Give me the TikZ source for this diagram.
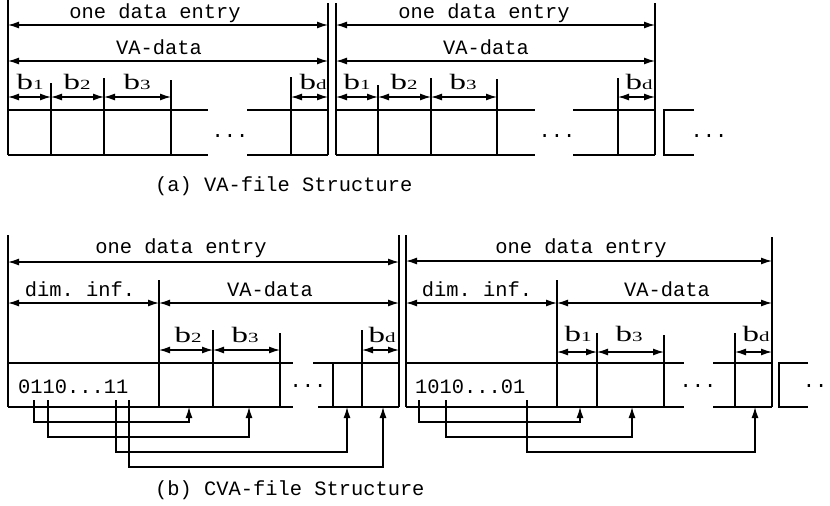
\documentclass[tikz,border=0pt]{standalone}
\usepackage{graphicx}
\usepackage{fontspec}
\setmainfont{Liberation Serif}
\setmonofont{Liberation Mono}
\usetikzlibrary{arrows.meta}

\newcommand{\bsub}[1]{\scalebox{1.5}[1]{b{\fontsize{14}{14}\selectfont #1}}}

\begin{document}
\begin{tikzpicture}[x=1pt,y=-1pt,
    struct/.style={line width=1.5pt},
    dimarrow/.style={line width=1.3pt,{Latex[length=11pt,width=7pt]}-{Latex[length=11pt,width=7pt]}},
    link/.style={line width=1.3pt,-{Latex[length=11pt,width=7pt]}},
    lbl/.style={font=\ttfamily\fontsize{20.4}{20.4}\selectfont,inner sep=0pt,anchor=base},
    blbl/.style={font=\rmfamily\fontsize{22}{22}\selectfont,inner sep=0pt,anchor=base}]
    \useasboundingbox (0,0) rectangle (830,506);

    % ---------- (a) VA-file ----------
    % first entry
    \draw[struct] (8,0) -- (8,155);
    \draw[struct] (328,3) -- (328,155);
    \coordinate (oa1l) at (8,25);   \coordinate (oa1r) at (328,25);
    \coordinate (va1l) at (8,61);   \coordinate (va1r) at (328,61);
    \draw[dimarrow] (oa1l) -- (oa1r);
    \draw[dimarrow] (va1l) -- (va1r);
    \node[lbl] (entA1) at (155,19) {one data entry};
    \node[lbl] (vaA1) at (159,54) {VA-data};
    \foreach \x/\y in {51/83,104/78,171/80,291/77}
        \draw[struct] (\x,\y) -- (\x,155);
    \foreach \n/\x in {0/8,1/51,2/104,3/171,4/291,5/328}
        \coordinate (ta\n) at (\x,97);
    \draw[dimarrow] (ta0) -- (ta1);
    \draw[dimarrow] (ta1) -- (ta2);
    \draw[dimarrow] (ta2) -- (ta3);
    \draw[dimarrow] (ta4) -- (ta5);
    \node[blbl] (bA1) at (30,89) {\bsub{1}};
    \node[blbl] (bA2) at (77,89) {\bsub{2}};
    \node[blbl] (bA3) at (137,89) {\bsub{3}};
    \node[blbl] (bAd) at (313,89) {\bsub{d}};
    \draw[struct] (8,110) -- (208,110) (247,110) -- (328,110)
                  (8,155) -- (208,155) (247,155) -- (328,155);
    \node[lbl] (dotA1) at (230,137) {...};

    % second entry
    \draw[struct] (336,3) -- (336,155);
    \draw[struct] (655,3) -- (655,155);
    \coordinate (oa2l) at (336,25);  \coordinate (oa2r) at (655,25);
    \coordinate (va2l) at (336,61);  \coordinate (va2r) at (655,61);
    \draw[dimarrow] (oa2l) -- (oa2r);
    \draw[dimarrow] (va2l) -- (va2r);
    \node[lbl] (entA2) at (484,19) {one data entry};
    \node[lbl] (vaA2) at (486,54) {VA-data};
    \foreach \x/\y in {378/85,431/78,497/79,618/78}
        \draw[struct] (\x,\y) -- (\x,155);
    \foreach \n/\x in {0/336,1/378,2/431,3/497,4/618,5/655}
        \coordinate (tb\n) at (\x,97);
    \draw[dimarrow] (tb0) -- (tb1);
    \draw[dimarrow] (tb1) -- (tb2);
    \draw[dimarrow] (tb2) -- (tb3);
    \draw[dimarrow] (tb4) -- (tb5);
    \node[blbl] (bB1) at (357,89) {\bsub{1}};
    \node[blbl] (bB2) at (404,89) {\bsub{2}};
    \node[blbl] (bB3) at (463,89) {\bsub{3}};
    \node[blbl] (bBd) at (639,89) {\bsub{d}};
    \draw[struct] (336,110) -- (535,110) (573,110) -- (655,110)
                  (336,155) -- (535,155) (573,155) -- (655,155);
    \node[lbl] (dotA2) at (557,137) {...};

    % next entry
    \draw[struct] (694,110) -- (664,110) -- (664,155) -- (694,155);
    \node[lbl] (dotA3) at (709,137) {...};

    \node[lbl,anchor=base west] (capA) at (155,191) {(a) VA-file Structure};

    % ---------- (b) CVA-file ----------
    % first entry
    \draw[struct] (8,235) -- (8,407);
    \draw[struct] (399,235) -- (399,407);
    \draw[struct] (159,280) -- (159,407);
    \coordinate (oc1l) at (8,262);    \coordinate (oc1r) at (399,262);
    \coordinate (dc1l) at (8,303);    \coordinate (dc1m) at (159,303);
    \coordinate (dc1r) at (399,303);
    \draw[dimarrow] (oc1l) -- (oc1r);
    \draw[dimarrow] (dc1l) -- (dc1m);
    \draw[dimarrow] (dc1m) -- (dc1r);
    \node[lbl] (entC1) at (181,253) {one data entry};
    \node[lbl] (dimC1) at (80,296) {dim. inf.};
    \node[lbl] (vaC1) at (270,296) {VA-data};
    \foreach \x/\y in {213/330,280/333,362/330,333/363}
        \draw[struct] (\x,\y) -- (\x,407);
    \foreach \n/\x in {0/159,1/213,2/280,3/362,4/399}
        \coordinate (tc\n) at (\x,350);
    \draw[dimarrow] (tc0) -- (tc1);
    \draw[dimarrow] (tc1) -- (tc2);
    \draw[dimarrow] (tc3) -- (tc4);
    \node[blbl] (bC2) at (188,342) {\bsub{2}};
    \node[blbl] (bC3) at (245,342) {\bsub{3}};
    \node[blbl] (bCd) at (382,342) {\bsub{d}};
    \draw[struct] (8,363) -- (293,363) (313,363) -- (399,363)
                  (8,407) -- (293,407) (318,407) -- (399,407);
    \node[lbl] (dotC1) at (308,387) {...};
    \node[lbl,anchor=base west] (bitsC1) at (18,393) {0110...11};
    % bit links
    \coordinate (sc1) at (34,400);   \coordinate (ec1) at (189,407);
    \coordinate (sc2) at (48,400);   \coordinate (ec2) at (249,407);
    \coordinate (sc3) at (116,400);  \coordinate (ec3) at (347,407);
    \coordinate (sc4) at (129,400);  \coordinate (ec4) at (383,407);
    \draw[link] (sc1) -- ++(0,22) -| (ec1);
    \draw[link] (sc2) -- ++(0,37) -| (ec2);
    \draw[link] (sc3) -- ++(0,52) -| (ec3);
    \draw[link] (sc4) -- ++(0,67) -| (ec4);

    % second entry
    \draw[struct] (406,235) -- (406,407);
    \draw[struct] (772,237) -- (772,407);
    \draw[struct] (557,280) -- (557,407);
    \coordinate (oc2l) at (406,261);  \coordinate (oc2r) at (772,261);
    \coordinate (dc2l) at (406,303);  \coordinate (dc2m) at (557,303);
    \coordinate (dc2r) at (772,303);
    \draw[dimarrow] (oc2l) -- (oc2r);
    \draw[dimarrow] (dc2l) -- (dc2m);
    \draw[dimarrow] (dc2m) -- (dc2r);
    \node[lbl] (entC2) at (581,253) {one data entry};
    \node[lbl] (dimC2) at (477,296) {dim. inf.};
    \node[lbl] (vaC2) at (667,296) {VA-data};
    \foreach \x/\y in {597/333,664/335,735/333}
        \draw[struct] (\x,\y) -- (\x,407);
    \foreach \n/\x in {0/557,1/597,2/664,3/735,4/772}
        \coordinate (td\n) at (\x,352);
    \draw[dimarrow] (td0) -- (td1);
    \draw[dimarrow] (td1) -- (td2);
    \draw[dimarrow] (td3) -- (td4);
    \node[blbl] (bD1) at (578,341) {\bsub{1}};
    \node[blbl] (bD3) at (629,341) {\bsub{3}};
    \node[blbl] (bDd) at (756,341) {\bsub{d}};
    \draw[struct] (406,363) -- (684,363) (713,363) -- (772,363)
                  (406,407) -- (684,407) (713,407) -- (772,407);
    \node[lbl] (dotC2) at (698,387) {...};
    \node[lbl,anchor=base west] (bitsC2) at (415,393) {1010...01};
    % bit links
    \coordinate (sd1) at (419,400);  \coordinate (ed1) at (580,407);
    \coordinate (sd2) at (446,400);  \coordinate (ed2) at (632,407);
    \coordinate (sd3) at (527,400);  \coordinate (ed3) at (755,407);
    \draw[link] (sd1) -- ++(0,22) -| (ed1);
    \draw[link] (sd2) -- ++(0,37) -| (ed2);
    \draw[link] (sd3) -- ++(0,52) -| (ed3);

    % next entry
    \draw[struct] (808,363) -- (779,363) -- (779,407) -- (808,407);
    \node[lbl] (dotC3) at (815,387) {..};

    \node[lbl,anchor=base west] (capC) at (155,495) {(b) CVA-file Structure};
\end{tikzpicture}
\end{document}
